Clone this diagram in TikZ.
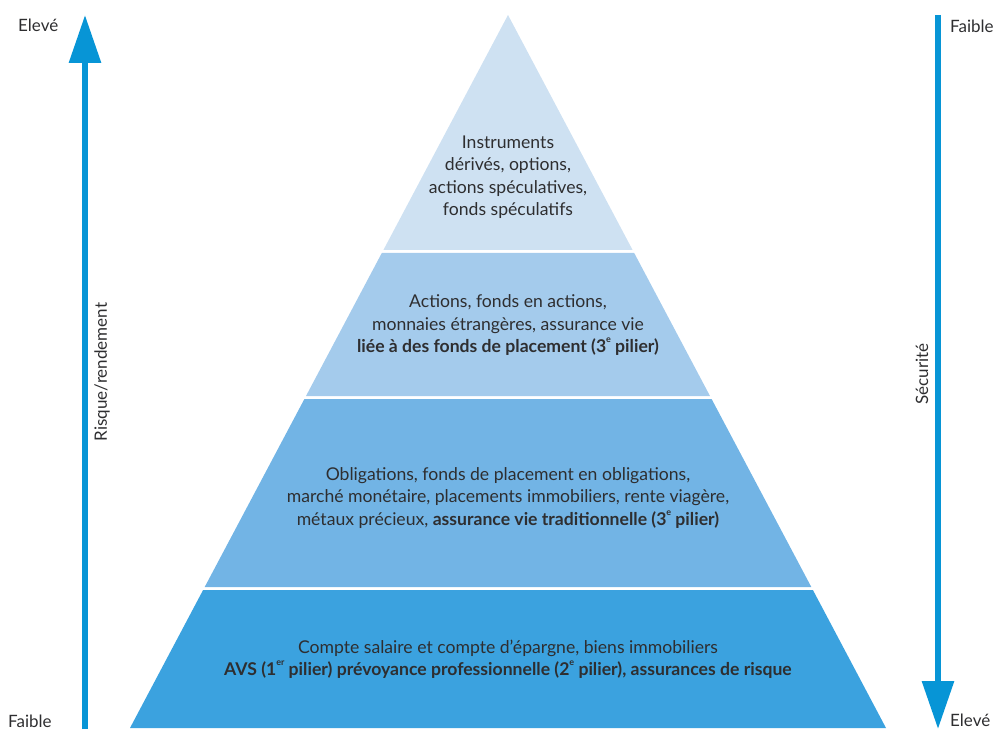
\documentclass[tikz,border=0pt]{standalone}
\usepackage{fontspec}
\setmainfont{Lato}
\usetikzlibrary{arrows.meta}
\definecolor{arr}{HTML}{0795D6}
\definecolor{tone}{HTML}{CEE1F2}
\definecolor{ttwo}{HTML}{A4CBEC}
\definecolor{tthree}{HTML}{72B4E5}
\definecolor{tfour}{HTML}{3BA2DF}
\definecolor{textc}{HTML}{2E2E30}
\newcommand{\mysup}[1]{\raisebox{0.55em}{\fontsize{9}{9}\selectfont #1}}
\begin{document}
\begin{tikzpicture}[x=1pt,y=-1pt,
  txt/.style={text=textc, font=\fontsize{17.6}{22.5}\selectfont, align=center, inner sep=0pt},
  lbl/.style={text=textc, font=\fontsize{17}{19}\selectfont, inner sep=0pt},
  axis/.style={draw=arr, line width=6pt, -{Triangle[width=31pt,length=48pt]}}]
\useasboundingbox (0,0) rectangle (996,730);
% tiers
\fill[tone] (508,15) -- (632.6,250) -- (383.4,250) -- cycle;
\fill[ttwo] (381.8,253) -- (634.2,253) -- (710,396) -- (306,396) -- cycle;
\fill[tthree] (304.4,399) -- (711.6,399) -- (811.3,587) -- (204.7,587) -- cycle;
\fill[tfour] (203.1,590) -- (812.9,590) -- (886,728) -- (130,728) -- cycle;
% texts
\node[txt] (a) at (508,177) {Instruments\\dérivés, options,\\actions spéculatives,\\fonds spéculatifs};
\node[txt] (b) at (508,325) {Actions, fonds en actions,\\monnaies étrangères, assurance vie\\\textbf{liée à des fonds de placement (3\mysup{e} pilier)}};
\node[txt] (c) at (508,498) {Obligations, fonds de placement en obligations,\\marché monétaire, placements immobiliers, rente viagère,\\métaux précieux, \textbf{assurance vie traditionnelle (3\mysup{e} pilier)}};
\node[txt] (d) at (508,659) {Compte salaire et compte d’épargne, biens immobiliers\\\textbf{AVS (1\mysup{er} pilier) prévoyance professionnelle (2\mysup{e} pilier), assurances de risque}};
% axes
\coordinate (l0) at (85,729);
\coordinate (l1) at (85,15);
\coordinate (r0) at (938,15);
\coordinate (r1) at (938,729);
\draw[axis] (l0) -- (l1);
\draw[axis] (r0) -- (r1);
\node[lbl, anchor=west] (le) at (18,25) {Elevé};
\node[lbl, anchor=west] (lf) at (8,721) {Faible};
\node[lbl, anchor=west] (rf) at (950,26) {Faible};
\node[lbl, anchor=west] (re) at (950,720) {Elevé};
\node[lbl, rotate=90] (lr) at (102,372) {Risque/rendement};
\node[lbl, rotate=90] (rs) at (922,374) {Sécurité};
\end{tikzpicture}
\end{document}
